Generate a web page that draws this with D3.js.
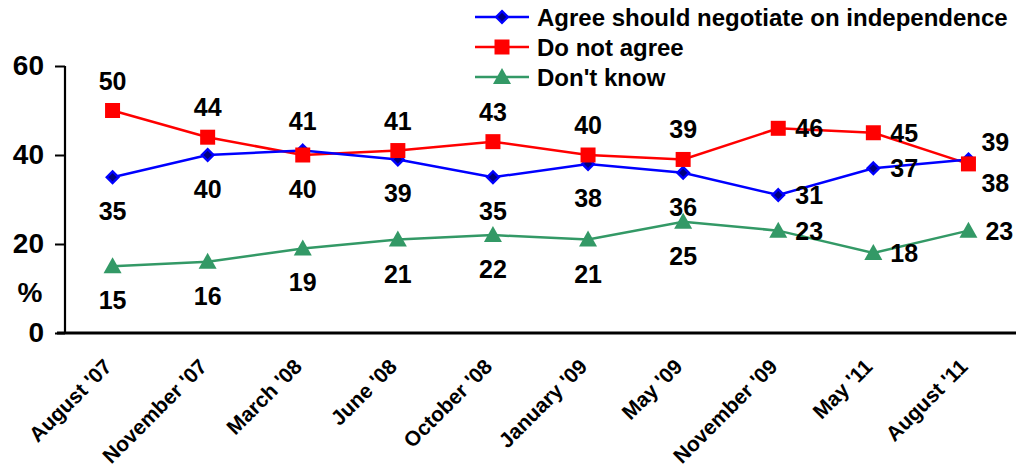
<!DOCTYPE html>
<html><head><meta charset="utf-8">
<script src="https://cdn.jsdelivr.net/npm/d3@7"></script>
<style>body{margin:0;background:#fff}svg{display:block;font-family:"Liberation Sans",Arial,sans-serif;font-weight:bold}</style>
</head><body><svg id="c" width="1016" height="470"></svg>
<script>
const categories = ["August '07","November '07","March '08","June '08","October '08","January '09","May '09","November '09","May '11","August '11"];
const agree = [35,40,41,39,35,38,36,31,37,39];
const disagree = [50,44,40,41,43,40,39,46,45,38];
const dontKnow = [15,16,19,21,22,21,25,23,18,23];
const seriesNames = ["Agree should negotiate on independence","Do not agree","Don't know"];
const yTicks = [0,20,40,60];
// label placement per point: a=above, b=below, r=right
const agreePos = ["b","b","a","b","b","b","b","r","r","ar"];
const disagreePos = ["a","a","b","a","a","a","a","r","r","br"];
const dkPos = ["b","b","b","b","b","b","b","r","r","r"];

const FONT = "Liberation Sans, Arial, sans-serif";
const svg = d3.select("#c");
const x = d3.scalePoint().domain(categories).range([65,1016]).padding(0.5);
const y = d3.scaleLinear().domain([0,60]).range([333,66]);

// axes
const ya = svg.append("g").attr("transform","translate(65,0)")
  .call(d3.axisLeft(y).tickValues(yTicks).tickSize(10).tickPadding(11));
ya.select(".domain").attr("d","M0,66V333").attr("stroke","#000").attr("stroke-width",2.2);
ya.selectAll(".tick line").attr("stroke","#000").attr("stroke-width",2);
ya.selectAll(".tick text").attr("font-size",28).attr("font-weight","bold").attr("fill","#000")
  .attr("font-family",FONT);

const xa = svg.append("g").attr("transform","translate(0,333)")
  .call(d3.axisBottom(x).tickSize(0).tickPadding(0));
xa.select(".domain").attr("d","M57,0H1016").attr("stroke","#000").attr("stroke-width",3);
xa.selectAll(".tick text")
  .attr("font-size",21).attr("font-weight","bold")
  .attr("fill","#000").attr("font-family",FONT)
  .attr("text-anchor","end").attr("y",0).attr("dy",0)
  .attr("transform","translate(0,35) rotate(-45)");

svg.append("text").attr("x",30).attr("y",302).attr("text-anchor","middle")
  .attr("font-size",28).text("%");

const series = [
  {name:seriesNames[0], vals:agree, pos:agreePos, color:"#0000FF", marker:"diamond"},
  {name:seriesNames[1], vals:disagree, pos:disagreePos, color:"#FF0000", marker:"square"},
  {name:seriesNames[2], vals:dontKnow, pos:dkPos, color:"#339966", marker:"triangle"}
];
function drawMarker(g, s, cx, cy){
  let m;
  if(s.marker==="diamond"){
    const r=5.8;
    m=g.append("path").attr("d",`M0,${-r}L${r},0L0,${r}L${-r},0Z`)
      .attr("fill","#000080").attr("stroke","#0000FF").attr("stroke-width",2.4);
  } else if(s.marker==="square"){
    const r=7.5;
    m=g.append("path").attr("d",`M${-r},${-r}H${r}V${r}H${-r}Z`).attr("fill",s.color);
  } else {
    m=g.append("path").attr("d","M0,-9L9,7H-9Z").attr("fill",s.color);
  }
  m.attr("transform",`translate(${cx},${cy})`);
}
const line = d3.line().x((d,i)=>x(categories[i])).y(d=>y(d));
[2,1,0].forEach(k=>{
  const s=series[k];
  svg.append("path").attr("d",line(s.vals)).attr("fill","none").attr("stroke",s.color).attr("stroke-width",2.5);
});
[2,0,1].forEach(k=>{
  const s=series[k];
  const g=svg.append("g");
  s.vals.forEach((v,i)=>drawMarker(g,s,x(categories[i]),y(v)));
});
// labels
series.forEach(s=>{
  s.vals.forEach((v,i)=>{
    const cx=x(categories[i]), cy=y(v), p=s.pos[i];
    let tx=cx, ty=cy, anchor="middle";
    if(p==="a"){ty=cy-30;}
    else if(p==="b"){ty=cy+34;}
    else if(p==="r"){tx=cx+17;anchor="start";}
    else if(p==="ar"){tx=cx+13;ty=cy-17;anchor="start";}
    else if(p==="br"){tx=cx+13;ty=cy+19;anchor="start";}
    svg.append("text").attr("x",tx).attr("y",ty).attr("dy","0.36em")
      .attr("text-anchor",anchor).attr("font-size",25).attr("fill","#000").text(v);
  });
});
// legend
series.forEach((s,k)=>{
  const ly=17+k*30;
  svg.append("line").attr("x1",475).attr("x2",529).attr("y1",ly).attr("y2",ly)
    .attr("stroke",s.color).attr("stroke-width",2.5);
  drawMarker(svg,s,502,ly);
  svg.append("text").attr("x",537).attr("y",ly).attr("dy","0.36em")
    .attr("font-size",24).attr("fill","#000").text(s.name);
});
</script></body></html>
